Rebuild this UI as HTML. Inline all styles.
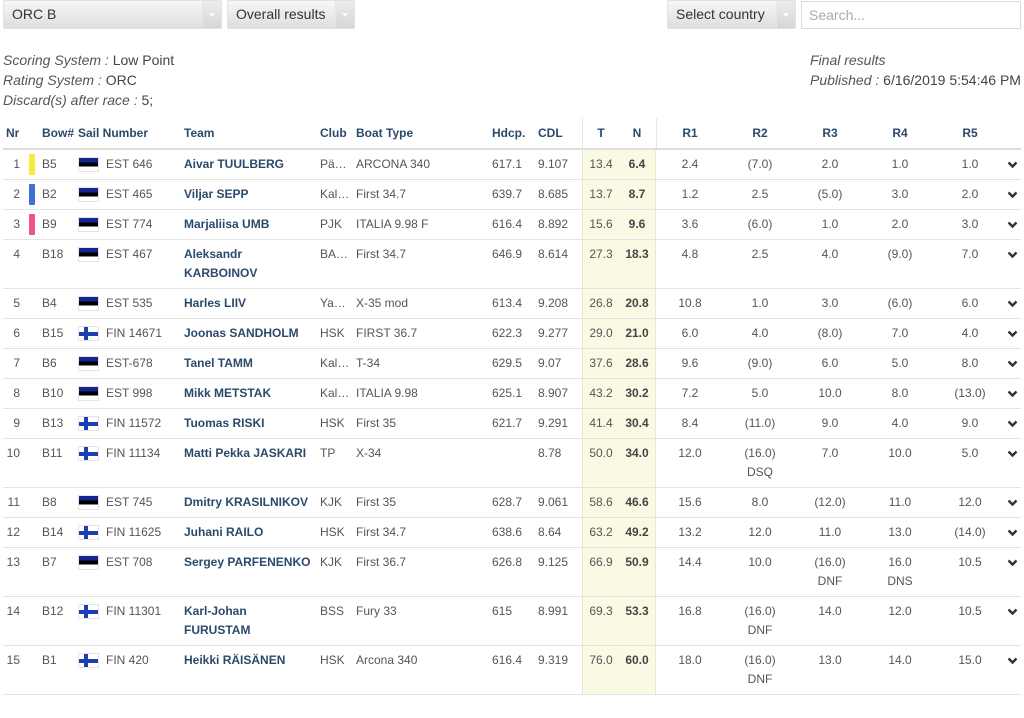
<!DOCTYPE html>
<html><head><meta charset="utf-8">
<style>
*{margin:0;padding:0;box-sizing:border-box}
body{width:1024px;height:718px;background:#fff;position:relative;overflow:hidden;font-family:"Liberation Sans",Arial,sans-serif;color:#555}
.dd{position:absolute;top:0;height:29px;background:linear-gradient(#f7f7f7,#dedede);border:1px solid #e2e2e2;border-radius:2px;font-size:14px;color:#333;line-height:27px;padding-left:8px}
.dd .ar{position:absolute;right:0;top:0;bottom:0;width:19px;background:linear-gradient(#ececec,#d6d6d6);border-left:1px solid #e6e6e6}
.dd .ar::after{content:"";position:absolute;left:6px;top:12px;border-left:3px solid transparent;border-right:3px solid transparent;border-top:4px solid #fafafa}
.search{position:absolute;left:801px;top:1px;width:220px;height:28px;border:1px solid #dcdcdc;background:#fff;font-size:14px;color:#aaa;line-height:26px;padding-left:7px}
.info{position:absolute;font-size:14px;line-height:20px;color:#444}
.info i{color:#555}
.h{position:absolute;top:124px;line-height:19px;font-size:12px;font-weight:bold;color:#2b4a6b;white-space:nowrap}
.hb{position:absolute;left:3px;width:1018px;top:148px;height:2px;background:#dedede}
.vl{position:absolute;top:118px;width:1px;height:30px;background:#e6e6e6}
.yc{position:absolute;left:582px;top:150px;width:74px;height:545px;background:#fafae4;border-left:1px solid #ebe9c9;border-right:1px solid #ebe9c9}
.r{position:absolute;left:0;width:1024px}
.r::after{content:"";position:absolute;left:3px;right:3px;bottom:0;height:1px;background:#e3e3e3}
.c{position:absolute;top:5px;line-height:19px;font-size:12px;white-space:nowrap;color:#555}
.nr{left:0;width:20px;text-align:right}
.bar{position:absolute;left:29px;top:4px;width:6px;height:21px;border-radius:1px}
.bow{left:42px}
.fl{position:absolute;left:78px;top:7px;width:21px;height:15px;overflow:hidden;border:1px solid #e4e4e4}
.est{background:linear-gradient(#13258f 0,#13258f 33%,#000 33%,#000 66%,#fff 66%)}
.fin{background:#fff}
.fin::before{content:"";position:absolute;left:5px;top:0;width:4px;height:15px;background:#1b3fb3}
.fin::after{content:"";position:absolute;left:0;top:5px;width:21px;height:4px;background:#1b3fb3}
.sail{left:106px}
.team{left:184px;font-weight:bold;color:#2b4a6b}
.club{left:320px}
.boat{left:356px}
.hd{left:492px}
.cdl{left:538px}
.t{left:582px;width:38px;text-align:center}
.n{left:620px;width:34px;text-align:center;font-weight:bold;color:#444}
.r1{left:655px;width:70px;text-align:center}
.r2{left:725px;width:70px;text-align:center}
.r3{left:795px;width:70px;text-align:center}
.r4{left:865px;width:70px;text-align:center}
.r5{left:935px;width:70px;text-align:center}
.chev{position:absolute;left:1007px;top:11px}
</style></head><body>

<div class="dd" style="left:3px;width:219px">ORC B<span class="ar"></span></div>
<div class="dd" style="left:227px;width:128px">Overall results<span class="ar"></span></div>
<div class="dd" style="left:667px;width:129px">Select country<span class="ar"></span></div>
<div class="search">Search...</div>

<div class="info" style="left:3px;top:50px"><i>Scoring System :</i> Low Point<br><i>Rating System :</i> ORC<br><i>Discard(s) after race :</i> 5;</div>
<div class="info" style="left:810px;top:50px"><i>Final results</i><br><i>Published :</i> 6/16/2019 5:54:46 PM</div>

<div class="h" style="left:6px">Nr</div>
<div class="h" style="left:42px">Bow#</div>
<div class="h" style="left:78px">Sail Number</div>
<div class="h" style="left:184px">Team</div>
<div class="h" style="left:320px">Club</div>
<div class="h" style="left:356px">Boat Type</div>
<div class="h" style="left:492px">Hdcp.</div>
<div class="h" style="left:538px">CDL</div>
<div class="h" style="left:582px;width:38px;text-align:center">T</div>
<div class="h" style="left:620px;width:34px;text-align:center">N</div>
<div class="h" style="left:655px;width:70px;text-align:center">R1</div>
<div class="h" style="left:725px;width:70px;text-align:center">R2</div>
<div class="h" style="left:795px;width:70px;text-align:center">R3</div>
<div class="h" style="left:865px;width:70px;text-align:center">R4</div>
<div class="h" style="left:935px;width:70px;text-align:center">R5</div>
<div class="vl" style="left:582px"></div>
<div class="vl" style="left:656px"></div>
<div class="hb"></div>

<div class="yc"></div>

<div class="r" style="top:150px;height:30px"><div class="c nr">1</div><div class="bar" style="background:#f7ec3c"></div><div class="c bow">B5</div><div class="fl est"></div><div class="c sail">EST 646</div><div class="c team">Aivar TUULBERG</div><div class="c club">Pä…</div><div class="c boat">ARCONA 340</div><div class="c hd">617.1</div><div class="c cdl">9.107</div><div class="c t">13.4</div><div class="c n">6.4</div><div class="c r1">2.4</div><div class="c r2">(7.0)</div><div class="c r3">2.0</div><div class="c r4">1.0</div><div class="c r5">1.0</div><svg class="chev" width="11" height="8"><polyline points="1.5,1.5 5.5,5.5 9.5,1.5" fill="none" stroke="#333" stroke-width="2.4"/></svg></div>

<div class="r" style="top:180px;height:30px"><div class="c nr">2</div><div class="bar" style="background:#3e6fd2"></div><div class="c bow">B2</div><div class="fl est"></div><div class="c sail">EST 465</div><div class="c team">Viljar SEPP</div><div class="c club">Kal…</div><div class="c boat">First 34.7</div><div class="c hd">639.7</div><div class="c cdl">8.685</div><div class="c t">13.7</div><div class="c n">8.7</div><div class="c r1">1.2</div><div class="c r2">2.5</div><div class="c r3">(5.0)</div><div class="c r4">3.0</div><div class="c r5">2.0</div><svg class="chev" width="11" height="8"><polyline points="1.5,1.5 5.5,5.5 9.5,1.5" fill="none" stroke="#333" stroke-width="2.4"/></svg></div>

<div class="r" style="top:210px;height:30px"><div class="c nr">3</div><div class="bar" style="background:#f0508e"></div><div class="c bow">B9</div><div class="fl est"></div><div class="c sail">EST 774</div><div class="c team">Marjaliisa UMB</div><div class="c club">PJK</div><div class="c boat">ITALIA 9.98 F</div><div class="c hd">616.4</div><div class="c cdl">8.892</div><div class="c t">15.6</div><div class="c n">9.6</div><div class="c r1">3.6</div><div class="c r2">(6.0)</div><div class="c r3">1.0</div><div class="c r4">2.0</div><div class="c r5">3.0</div><svg class="chev" width="11" height="8"><polyline points="1.5,1.5 5.5,5.5 9.5,1.5" fill="none" stroke="#333" stroke-width="2.4"/></svg></div>

<div class="r" style="top:240px;height:49px"><div class="c nr">4</div><div class="c bow">B18</div><div class="fl est"></div><div class="c sail">EST 467</div><div class="c team">Aleksandr<br>KARBOINOV</div><div class="c club">BA…</div><div class="c boat">First 34.7</div><div class="c hd">646.9</div><div class="c cdl">8.614</div><div class="c t">27.3</div><div class="c n">18.3</div><div class="c r1">4.8</div><div class="c r2">2.5</div><div class="c r3">4.0</div><div class="c r4">(9.0)</div><div class="c r5">7.0</div><svg class="chev" width="11" height="8"><polyline points="1.5,1.5 5.5,5.5 9.5,1.5" fill="none" stroke="#333" stroke-width="2.4"/></svg></div>

<div class="r" style="top:289px;height:30px"><div class="c nr">5</div><div class="c bow">B4</div><div class="fl est"></div><div class="c sail">EST 535</div><div class="c team">Harles LIIV</div><div class="c club">Ya…</div><div class="c boat">X-35 mod</div><div class="c hd">613.4</div><div class="c cdl">9.208</div><div class="c t">26.8</div><div class="c n">20.8</div><div class="c r1">10.8</div><div class="c r2">1.0</div><div class="c r3">3.0</div><div class="c r4">(6.0)</div><div class="c r5">6.0</div><svg class="chev" width="11" height="8"><polyline points="1.5,1.5 5.5,5.5 9.5,1.5" fill="none" stroke="#333" stroke-width="2.4"/></svg></div>

<div class="r" style="top:319px;height:30px"><div class="c nr">6</div><div class="c bow">B15</div><div class="fl fin"></div><div class="c sail">FIN 14671</div><div class="c team">Joonas SANDHOLM</div><div class="c club">HSK</div><div class="c boat">FIRST 36.7</div><div class="c hd">622.3</div><div class="c cdl">9.277</div><div class="c t">29.0</div><div class="c n">21.0</div><div class="c r1">6.0</div><div class="c r2">4.0</div><div class="c r3">(8.0)</div><div class="c r4">7.0</div><div class="c r5">4.0</div><svg class="chev" width="11" height="8"><polyline points="1.5,1.5 5.5,5.5 9.5,1.5" fill="none" stroke="#333" stroke-width="2.4"/></svg></div>

<div class="r" style="top:349px;height:30px"><div class="c nr">7</div><div class="c bow">B6</div><div class="fl est"></div><div class="c sail">EST-678</div><div class="c team">Tanel TAMM</div><div class="c club">Kal…</div><div class="c boat">T-34</div><div class="c hd">629.5</div><div class="c cdl">9.07</div><div class="c t">37.6</div><div class="c n">28.6</div><div class="c r1">9.6</div><div class="c r2">(9.0)</div><div class="c r3">6.0</div><div class="c r4">5.0</div><div class="c r5">8.0</div><svg class="chev" width="11" height="8"><polyline points="1.5,1.5 5.5,5.5 9.5,1.5" fill="none" stroke="#333" stroke-width="2.4"/></svg></div>

<div class="r" style="top:379px;height:30px"><div class="c nr">8</div><div class="c bow">B10</div><div class="fl est"></div><div class="c sail">EST 998</div><div class="c team">Mikk METSTAK</div><div class="c club">Kal…</div><div class="c boat">ITALIA 9.98</div><div class="c hd">625.1</div><div class="c cdl">8.907</div><div class="c t">43.2</div><div class="c n">30.2</div><div class="c r1">7.2</div><div class="c r2">5.0</div><div class="c r3">10.0</div><div class="c r4">8.0</div><div class="c r5">(13.0)</div><svg class="chev" width="11" height="8"><polyline points="1.5,1.5 5.5,5.5 9.5,1.5" fill="none" stroke="#333" stroke-width="2.4"/></svg></div>

<div class="r" style="top:409px;height:30px"><div class="c nr">9</div><div class="c bow">B13</div><div class="fl fin"></div><div class="c sail">FIN 11572</div><div class="c team">Tuomas RISKI</div><div class="c club">HSK</div><div class="c boat">First 35</div><div class="c hd">621.7</div><div class="c cdl">9.291</div><div class="c t">41.4</div><div class="c n">30.4</div><div class="c r1">8.4</div><div class="c r2">(11.0)</div><div class="c r3">9.0</div><div class="c r4">4.0</div><div class="c r5">9.0</div><svg class="chev" width="11" height="8"><polyline points="1.5,1.5 5.5,5.5 9.5,1.5" fill="none" stroke="#333" stroke-width="2.4"/></svg></div>

<div class="r" style="top:439px;height:49px"><div class="c nr">10</div><div class="c bow">B11</div><div class="fl fin"></div><div class="c sail">FIN 11134</div><div class="c team">Matti Pekka JASKARI</div><div class="c club">TP</div><div class="c boat">X-34</div><div class="c cdl">8.78</div><div class="c t">50.0</div><div class="c n">34.0</div><div class="c r1">12.0</div><div class="c r2">(16.0)<br>DSQ</div><div class="c r3">7.0</div><div class="c r4">10.0</div><div class="c r5">5.0</div><svg class="chev" width="11" height="8"><polyline points="1.5,1.5 5.5,5.5 9.5,1.5" fill="none" stroke="#333" stroke-width="2.4"/></svg></div>

<div class="r" style="top:488px;height:30px"><div class="c nr">11</div><div class="c bow">B8</div><div class="fl est"></div><div class="c sail">EST 745</div><div class="c team">Dmitry KRASILNIKOV</div><div class="c club">KJK</div><div class="c boat">First 35</div><div class="c hd">628.7</div><div class="c cdl">9.061</div><div class="c t">58.6</div><div class="c n">46.6</div><div class="c r1">15.6</div><div class="c r2">8.0</div><div class="c r3">(12.0)</div><div class="c r4">11.0</div><div class="c r5">12.0</div><svg class="chev" width="11" height="8"><polyline points="1.5,1.5 5.5,5.5 9.5,1.5" fill="none" stroke="#333" stroke-width="2.4"/></svg></div>

<div class="r" style="top:518px;height:30px"><div class="c nr">12</div><div class="c bow">B14</div><div class="fl fin"></div><div class="c sail">FIN 11625</div><div class="c team">Juhani RAILO</div><div class="c club">HSK</div><div class="c boat">First 34.7</div><div class="c hd">638.6</div><div class="c cdl">8.64</div><div class="c t">63.2</div><div class="c n">49.2</div><div class="c r1">13.2</div><div class="c r2">12.0</div><div class="c r3">11.0</div><div class="c r4">13.0</div><div class="c r5">(14.0)</div><svg class="chev" width="11" height="8"><polyline points="1.5,1.5 5.5,5.5 9.5,1.5" fill="none" stroke="#333" stroke-width="2.4"/></svg></div>

<div class="r" style="top:548px;height:49px"><div class="c nr">13</div><div class="c bow">B7</div><div class="fl est"></div><div class="c sail">EST 708</div><div class="c team">Sergey PARFENENKO</div><div class="c club">KJK</div><div class="c boat">First 36.7</div><div class="c hd">626.8</div><div class="c cdl">9.125</div><div class="c t">66.9</div><div class="c n">50.9</div><div class="c r1">14.4</div><div class="c r2">10.0</div><div class="c r3">(16.0)<br>DNF</div><div class="c r4">16.0<br>DNS</div><div class="c r5">10.5</div><svg class="chev" width="11" height="8"><polyline points="1.5,1.5 5.5,5.5 9.5,1.5" fill="none" stroke="#333" stroke-width="2.4"/></svg></div>

<div class="r" style="top:597px;height:49px"><div class="c nr">14</div><div class="c bow">B12</div><div class="fl fin"></div><div class="c sail">FIN 11301</div><div class="c team">Karl-Johan<br>FURUSTAM</div><div class="c club">BSS</div><div class="c boat">Fury 33</div><div class="c hd">615</div><div class="c cdl">8.991</div><div class="c t">69.3</div><div class="c n">53.3</div><div class="c r1">16.8</div><div class="c r2">(16.0)<br>DNF</div><div class="c r3">14.0</div><div class="c r4">12.0</div><div class="c r5">10.5</div><svg class="chev" width="11" height="8"><polyline points="1.5,1.5 5.5,5.5 9.5,1.5" fill="none" stroke="#333" stroke-width="2.4"/></svg></div>

<div class="r" style="top:646px;height:49px"><div class="c nr">15</div><div class="c bow">B1</div><div class="fl fin"></div><div class="c sail">FIN 420</div><div class="c team">Heikki RÄISÄNEN</div><div class="c club">HSK</div><div class="c boat">Arcona 340</div><div class="c hd">616.4</div><div class="c cdl">9.319</div><div class="c t">76.0</div><div class="c n">60.0</div><div class="c r1">18.0</div><div class="c r2">(16.0)<br>DNF</div><div class="c r3">13.0</div><div class="c r4">14.0</div><div class="c r5">15.0</div><svg class="chev" width="11" height="8"><polyline points="1.5,1.5 5.5,5.5 9.5,1.5" fill="none" stroke="#333" stroke-width="2.4"/></svg></div>

</body></html>
